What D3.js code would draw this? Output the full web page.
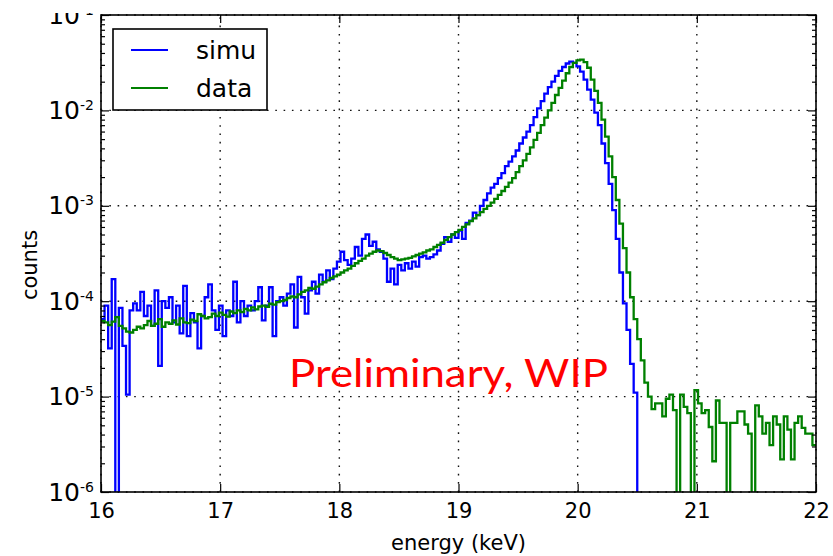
<!DOCTYPE html>
<html>
<head>
<meta charset="utf-8">
<script src="https://cdn.jsdelivr.net/npm/d3@7"></script>
<style>
  html, body { margin: 0; padding: 0; background: #fff; }
  svg { display: block; }
</style>
</head>
<body>
<script>
// histogram bins: start energy and width (keV)
const binStart = 16, binWidth = 0.03;

// simulated spectrum (counts per bin, 0 = empty bin)
const simu = [
  6.5e-5, 9e-5, 3.2e-5, 1.7e-4, 0, 8.5e-5, 3.4e-5, 1.05e-5, 8e-5, 9.5e-5,
  8e-5, 1.25e-4, 7e-5, 9e-5, 5.5e-5, 1.3e-4, 2.1e-5, 1e-4, 8.5e-5, 1.1e-4,
  6e-5, 9e-5, 4.6e-5, 1.45e-4, 4.3e-5, 7.5e-5, 6e-5, 3.2e-5, 7e-5, 1.1e-4,
  1.5e-4, 8e-5, 5e-5, 9e-5, 4.3e-5, 8e-5, 7e-5, 1.6e-4, 6e-5, 1e-4,
  7e-5, 9e-5, 8e-5, 1e-4, 1.4e-4, 6.3e-5, 9e-5, 1.4e-4, 4.3e-5, 1e-4,
  1.1e-4, 9e-5, 1.2e-4, 1.5e-4, 5.3e-5, 1.8e-4, 1.1e-4, 7.4e-5, 1.3e-4, 1.6e-4,
  1.2e-4, 1.9e-4, 1.6e-4, 2.1e-4, 1.7e-4, 2.2e-4, 2.6e-4, 3.3e-4, 2.7e-4, 2.4e-4,
  2.8e-4, 3.7e-4, 3e-4, 4.5e-4, 5e-4, 3.8e-4, 4.2e-4, 3.5e-4, 3.3e-4, 2.8e-4,
  1.6e-4, 2.2e-4, 1.5e-4, 2.4e-4, 2.1e-4, 2.5e-4, 2.2e-4, 2.6e-4, 2.3e-4, 2.9e-4,
  3e-4, 2.8e-4, 2.9e-4, 3.1e-4, 3.4e-4, 4e-4, 4.7e-4, 4.2e-4, 5e-4, 4.6e-4,
  5.5e-4, 4.5e-4, 6.6e-4, 7e-4, 8.5e-4, 8e-4, 1e-3, 1.15e-3, 1.35e-3, 1.55e-3,
  1.7e-3, 1.95e-3, 2.2e-3, 2.6e-3, 2.9e-3, 3.3e-3, 3.8e-3, 4.5e-3, 5.2e-3, 6e-3,
  7e-3, 8.5e-3, 1.05e-2, 1.25e-2, 1.5e-2, 1.75e-2, 2e-2, 2.3e-2, 2.6e-2, 2.85e-2,
  3.1e-2, 3.25e-2, 3.15e-2, 2.9e-2, 2.55e-2, 2.1e-2, 1.65e-2, 1.3e-2, 9.5e-3, 7e-3,
  4.5e-3, 2.8e-3, 1.7e-3, 9e-4, 4.5e-4, 2e-4, 9.5e-5, 5e-5, 2.2e-5, 1.1e-5,
  0, 0, 0, 0, 0, 0, 0, 0, 0, 0,
  0, 0, 0, 0, 0, 0, 0, 0, 0, 0,
  0, 0, 0, 0, 0, 0, 0, 0, 0, 0,
  0, 0, 0, 0, 0, 0, 0, 0, 0, 0,
  0, 0, 0, 0, 0, 0, 0, 0, 0, 0
];

// measured spectrum
const data = [
  6.2e-5, 6e-5, 5.6e-5, 6.1e-5, 6.8e-5, 5.5e-5, 5.2e-5, 4.8e-5, 4.7e-5, 5e-5,
  5.4e-5, 5.2e-5, 5.6e-5, 6.2e-5, 5.5e-5, 5.8e-5, 6.5e-5, 5.4e-5, 6e-5, 5.8e-5,
  6.3e-5, 5.7e-5, 6.6e-5, 6e-5, 5.9e-5, 6.4e-5, 6.2e-5, 7.3e-5, 7e-5, 6.6e-5,
  6.8e-5, 7.4e-5, 7e-5, 7.6e-5, 7.2e-5, 6.9e-5, 7.8e-5, 7.5e-5, 8e-5, 7.7e-5,
  8.3e-5, 8e-5, 8.6e-5, 8.2e-5, 8.8e-5, 9e-5, 8.7e-5, 9.4e-5, 9.2e-5, 9.8e-5,
  1e-4, 1.03e-4, 1.08e-4, 1.12e-4, 1.1e-4, 1.18e-4, 1.25e-4, 1.3e-4, 1.38e-4, 1.35e-4,
  1.42e-4, 1.5e-4, 1.58e-4, 1.65e-4, 1.75e-4, 1.82e-4, 1.9e-4, 2e-4, 2.1e-4, 2.2e-4,
  2.35e-4, 2.5e-4, 2.65e-4, 2.8e-4, 3e-4, 3.15e-4, 3.3e-4, 3.4e-4, 3.35e-4, 3.2e-4,
  3.05e-4, 2.9e-4, 2.8e-4, 2.7e-4, 2.75e-4, 2.8e-4, 2.85e-4, 2.95e-4, 3.05e-4, 3.15e-4,
  3.25e-4, 3.4e-4, 3.5e-4, 3.7e-4, 3.9e-4, 4.1e-4, 4.4e-4, 4.7e-4, 5e-4, 5.3e-4,
  5.6e-4, 6e-4, 6.4e-4, 6.9e-4, 7.4e-4, 8e-4, 8.6e-4, 9.3e-4, 1e-3, 1.08e-3,
  1.18e-3, 1.3e-3, 1.43e-3, 1.58e-3, 1.75e-3, 1.95e-3, 2.25e-3, 2.6e-3, 3e-3, 3.5e-3,
  4.1e-3, 4.9e-3, 5.8e-3, 7e-3, 8.4e-3, 1e-2, 1.2e-2, 1.45e-2, 1.72e-2, 2.05e-2,
  2.45e-2, 2.85e-2, 3.15e-2, 3.35e-2, 3.4e-2, 3.2e-2, 2.8e-2, 2.1e-2, 1.6e-2, 1.2e-2,
  8e-3, 5.3e-3, 3.3e-3, 2e-3, 1.15e-3, 6.5e-4, 3.6e-4, 2e-4, 1.1e-4, 6.5e-5,
  4e-5, 2.4e-5, 1.4e-5, 1e-5, 7.4e-6, 8.5e-6, 8.5e-6, 6.2e-6, 9.5e-6, 1.05e-5,
  7.2e-6, 0, 1.05e-5, 7.8e-6, 6.7e-6, 0, 1.17e-5, 8.5e-6, 6.7e-6, 7.2e-6,
  4.8e-6, 2.1e-6, 9.1e-6, 5.3e-6, 5.3e-6, 0, 5.3e-6, 5.3e-6, 7e-6, 7e-6,
  5.1e-6, 4.1e-6, 0, 8.1e-6, 6.2e-6, 4.1e-6, 5.3e-6, 3.1e-6, 6.2e-6, 5.1e-6,
  2.2e-6, 6.2e-6, 4.5e-6, 2.2e-6, 5.3e-6, 6.2e-6, 4.7e-6, 4.1e-6, 4.1e-6, 3.1e-6
];

const seriesNames = ["simu", "data"];
const seriesColors = ["#0000ff", "#008000"];
const xTicks = [16, 17, 18, 19, 20, 21, 22];
const yTicks = [1e-6, 1e-5, 1e-4, 1e-3, 1e-2, 1e-1];
const yTickExps = ["-6", "-5", "-4", "-3", "-2", "-1"];

const width = 833, height = 556;
const plot = {left: 101, right: 816, top: 15, bottom: 492};
const font = '"DejaVu Sans", sans-serif';

const svg = d3.select("body").append("svg")
  .attr("width", width)
  .attr("height", height);

const x = d3.scaleLinear().domain([16, 22]).range([plot.left, plot.right]);
const y = d3.scaleLog().domain([1e-6, 1e-1]).range([plot.bottom, plot.top]);

// log minor ticks 2..9 in every decade
let yMinor = [];
for (let e = -6; e < -1; e++) {
  for (let k = 2; k <= 9; k++) yMinor.push(k * Math.pow(10, e));
}

// clip region for the histogram lines
svg.append("clipPath").attr("id", "plotClip")
  .append("rect")
  .attr("x", plot.left).attr("y", plot.top)
  .attr("width", plot.right - plot.left)
  .attr("height", plot.bottom - plot.top);

// dotted grid
const grid = svg.append("g")
  .attr("stroke", "#111")
  .attr("stroke-width", 1.4)
  .attr("stroke-dasharray", "1.6,6.7");
grid.selectAll(".gx").data(xTicks).enter().append("line")
  .attr("x1", d => x(d)).attr("x2", d => x(d))
  .attr("y1", plot.bottom).attr("y2", plot.top);
grid.selectAll(".gy").data(yTicks).enter().append("line")
  .attr("y1", d => y(d)).attr("y2", d => y(d))
  .attr("x1", plot.left).attr("x2", plot.right);

// histogram outline as steps
const stepPoints = values => {
  let pts = [];
  values.forEach((v, i) => {
    let x0 = binStart + i * binWidth;
    pts.push([x0, v], [x0 + binWidth, v]);
  });
  return pts;
};
const stepLine = d3.line()
  .x(d => x(d[0]))
  .y(d => d[1] > 0 ? y(d[1]) : plot.bottom + 40);

[simu, data].forEach((values, i) => {
  svg.append("path")
    .attr("clip-path", "url(#plotClip)")
    .attr("d", stepLine(stepPoints(values)))
    .attr("fill", "none")
    .attr("stroke", seriesColors[i])
    .attr("stroke-width", 2.3)
    .attr("stroke-linejoin", "miter");
});

// ticks (inward, on all four sides)
const tickAxis = (axis, tx, ty) => {
  let g = svg.append("g").attr("transform", `translate(${tx},${ty})`).call(axis);
  g.select(".domain").remove();
  g.selectAll("line").attr("stroke", "#000").attr("stroke-width", 1.2);
  return g;
};
let xb = tickAxis(d3.axisBottom(x).tickValues(xTicks).tickSizeInner(-8).tickSizeOuter(0)
  .tickPadding(11).tickFormat(d3.format("d")), 0, plot.bottom);
xb.selectAll("text").attr("font-family", font).attr("font-size", 21).attr("fill", "#000");
tickAxis(d3.axisTop(x).tickValues(xTicks).tickSizeInner(-8).tickSizeOuter(0).tickFormat(""), 0, plot.top);
tickAxis(d3.axisLeft(y).tickValues(yTicks).tickSizeInner(-8).tickSizeOuter(0).tickFormat(""), plot.left, 0);
tickAxis(d3.axisLeft(y).tickValues(yMinor).tickSizeInner(-4).tickSizeOuter(0).tickFormat(""), plot.left, 0);
tickAxis(d3.axisRight(y).tickValues(yTicks).tickSizeInner(-8).tickSizeOuter(0).tickFormat(""), plot.right, 0);
tickAxis(d3.axisRight(y).tickValues(yMinor).tickSizeInner(-4).tickSizeOuter(0).tickFormat(""), plot.right, 0);

// y tick labels 10^n
let yLab = svg.append("g").selectAll("text").data(yTicks).enter().append("text")
  .attr("x", 94)
  .attr("y", d => y(d) + 8.5)
  .attr("text-anchor", "end")
  .attr("font-family", font)
  .attr("font-size", 25)
  .attr("fill", "#000");
yLab.append("tspan").text("10");
yLab.append("tspan")
  .attr("dy", -9)
  .attr("font-size", 14)
  .text((d, i) => yTickExps[i]);

// the top label is cut off in the original
svg.append("rect").attr("x", 0).attr("y", 0).attr("width", plot.left - 2).attr("height", 13).attr("fill", "#fff");

// frame
svg.append("rect")
  .attr("x", plot.left).attr("y", plot.top)
  .attr("width", plot.right - plot.left)
  .attr("height", plot.bottom - plot.top)
  .attr("fill", "none")
  .attr("stroke", "#000")
  .attr("stroke-width", 1.6);

// axis titles
svg.append("text")
  .attr("x", (plot.left + plot.right) / 2).attr("y", 550)
  .attr("text-anchor", "middle")
  .attr("font-family", font).attr("font-size", 21)
  .text("energy (keV)");
svg.append("text")
  .attr("transform", "translate(37,265) rotate(-90)")
  .attr("text-anchor", "middle")
  .attr("font-family", font).attr("font-size", 21)
  .text("counts");

// legend
let legend = svg.append("g");
legend.append("rect")
  .attr("x", 113).attr("y", 29).attr("width", 154).attr("height", 81)
  .attr("fill", "#fff").attr("stroke", "#000").attr("stroke-width", 1.6);
seriesNames.forEach((name, i) => {
  let ly = 50 + i * 38;
  legend.append("line")
    .attr("x1", 131).attr("x2", 168).attr("y1", ly).attr("y2", ly)
    .attr("stroke", seriesColors[i]).attr("stroke-width", 2);
  legend.append("text")
    .attr("x", 196).attr("y", ly + 9)
    .attr("font-family", font).attr("font-size", 25)
    .text(name);
});

// watermark
svg.append("text")
  .attr("x", 289).attr("y", 387)
  .attr("font-family", 'Lato, "Open Sans", sans-serif').attr("font-size", 39)
  .attr("fill", "#ff0000")
  .attr("textLength", 319)
  .attr("lengthAdjust", "spacingAndGlyphs")
  .text("Preliminary, WIP");
</script>
</body>
</html>
